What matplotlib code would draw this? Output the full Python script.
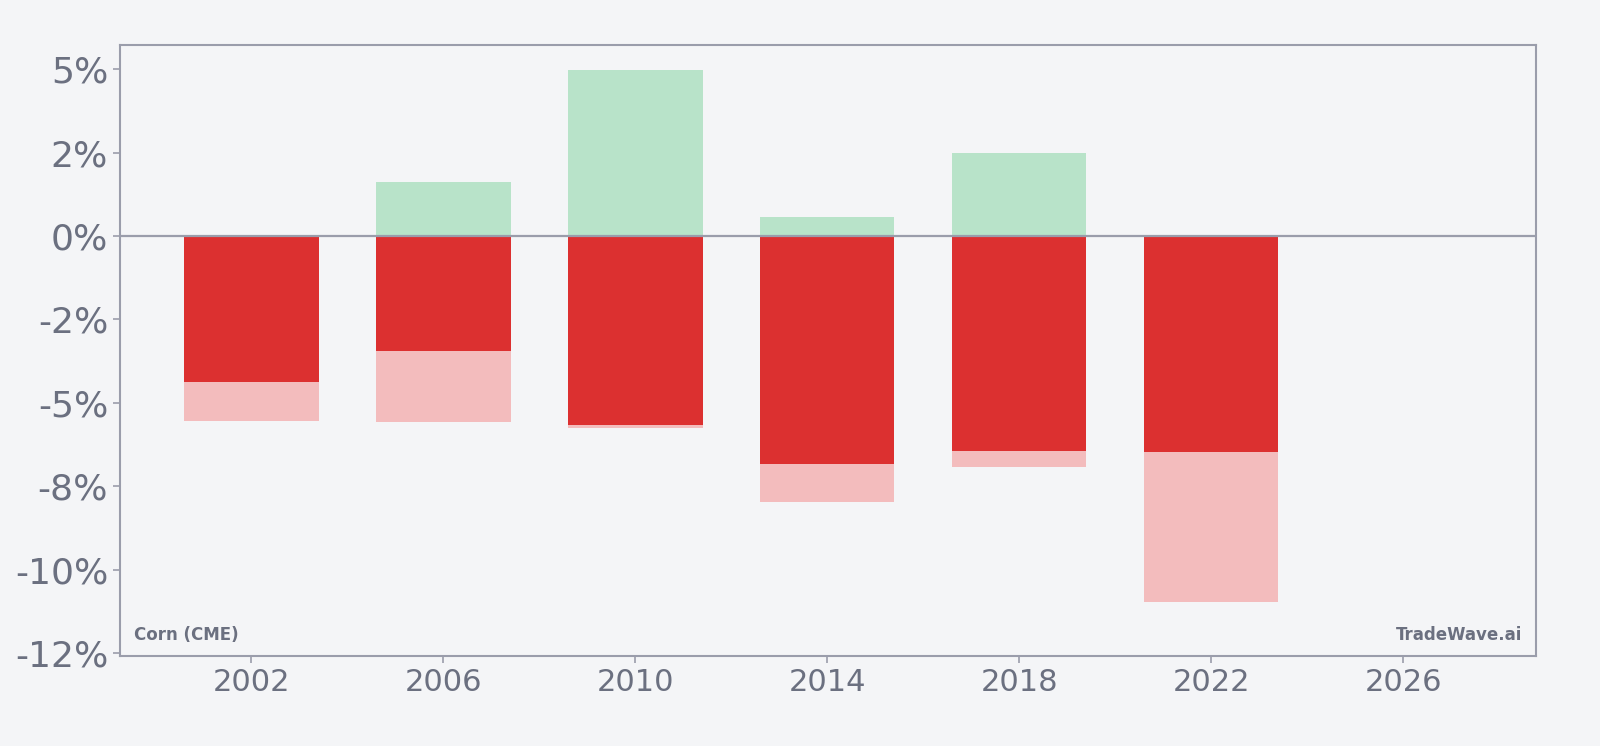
import matplotlib.pyplot as plt
from matplotlib.ticker import FuncFormatter, MultipleLocator

years = [2002, 2006, 2010, 2014, 2018, 2022]
best_gain = [0.0, 1.62, 4.98, 0.58, 2.50, 0.0]
final_ret = [-4.37, -3.44, -5.67, -6.83, -6.45, -6.47]
worst_dd = [-5.54, -5.57, -5.74, -7.97, -6.92, -10.96]

bg = '#f4f5f7'
grey = '#9a9dab'
txt = '#6b7080'

fig = plt.figure(figsize=(16, 7.46), dpi=100, facecolor=bg)
ax = fig.add_axes([0.075, 0.1206, 0.885, 0.8191])
ax.set_facecolor(bg)

ax.bar(years, best_gain, width=2.8, color='#b8e3c9', zorder=2)
ax.bar(years, worst_dd, width=2.8, color='#f3bcbd', zorder=2)
ax.bar(years, final_ret, width=2.8, color='#dc3030', zorder=3)
ax.axhline(0, color=grey, lw=1.6, zorder=4)

ax.set_xlim(1999.26, 2028.77)
ax.set_ylim(-12.59, 5.73)
ax.set_xticks([2002, 2006, 2010, 2014, 2018, 2022, 2026])
ax.yaxis.set_major_locator(MultipleLocator(2.5))
ax.yaxis.set_major_formatter(FuncFormatter(lambda v, p: '{:.0f}%'.format(v)))

ax.tick_params(axis='y', labelsize=26, colors=grey, labelcolor=txt, length=5, width=1.2)
ax.tick_params(axis='x', labelsize=22, colors=grey, labelcolor=txt, length=5, width=1.2)
for s in ax.spines.values():
    s.set_color(grey)
    s.set_linewidth(1.5)

ax.text(0.01, 0.02, 'Corn (CME)', transform=ax.transAxes, fontsize=12,
        fontweight='bold', color=txt, ha='left', va='bottom')
ax.text(0.99, 0.02, 'TradeWave.ai', transform=ax.transAxes, fontsize=12,
        fontweight='bold', color=txt, ha='right', va='bottom')

plt.savefig('out.png', dpi=100, facecolor=bg)
